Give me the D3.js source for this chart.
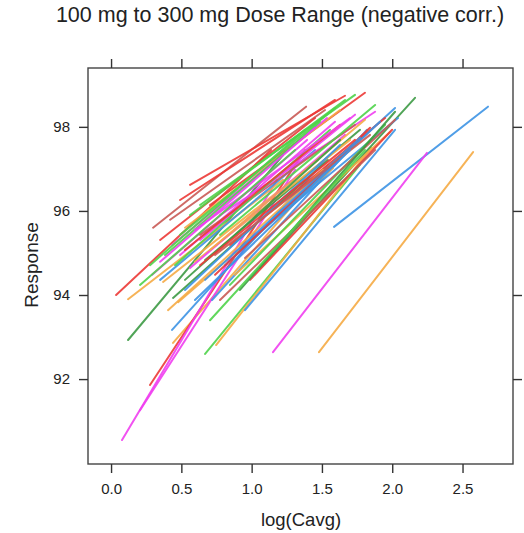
<!DOCTYPE html>
<html>
<head>
<meta charset="utf-8">
<script src="https://cdn.jsdelivr.net/npm/d3@7"></script>
<style>
body { margin: 0; background: #fff; }
text { font-family: "Liberation Sans", Arial, sans-serif; fill: #222; }
</style>
</head>
<body>
<div id="chart"></div>
<script>
// one segment per subject: log(Cavg) and Response at 100 mg and at 300 mg
var x1 = [1.586, 1.479, 1.152, 0.441, 0.277, 0.078, 0.206, 0.434, 0.718, 0.121,
          0.036, 0.121, 0.292, 0.349, 0.370, 0.441, 0.477, 0.299, 0.420, 0.349,
          0.669, 0.747, 1.060, 0.917, 0.989, 0.846, 0.633, 0.704, 0.775, 0.562,
          0.526, 0.491, 0.491, 0.434, 0.384, 0.633, 0.811, 0.882, 0.846, 0.953,
          0.989, 0.669, 0.277, 0.597, 0.562, 0.526, 0.740, 0.491, 0.775, 0.633,
          0.917, 0.562, 0.953, 0.704, 0.405, 0.455, 0.526, 0.597, 0.669, 0.704,
          0.526, 0.740, 0.775, 0.349, 0.633, 0.597, 0.206];
var y1 = [95.62, 92.64, 92.64, 92.86, 91.86, 90.55, 91.26, 93.17, 93.88, 92.93,
          94.00, 93.90, 94.48, 94.36, 94.31, 93.93, 93.83, 95.60, 95.79, 95.31,
          92.60, 92.81, 94.64, 95.07, 95.31, 95.19, 96.14, 96.14, 95.90, 95.90,
          95.60, 96.26, 94.95, 95.19, 94.95, 95.43, 94.71, 94.48, 94.24, 94.88,
          94.36, 94.83, 94.71, 94.79, 94.64, 94.12, 94.48, 95.43, 93.88, 95.31,
          94.12, 96.62, 93.64, 93.40, 93.64, 94.71, 95.07, 95.55, 94.36, 95.07,
          94.36, 94.95, 95.43, 94.79, 94.71, 93.88, 94.24];
var x2 = [2.681, 2.575, 2.247, 1.543, 1.380, 1.181, 1.309, 1.536, 1.821, 1.223,
          1.138, 1.223, 1.394, 1.451, 1.472, 1.543, 1.579, 1.387, 1.522, 1.451,
          1.771, 1.849, 2.162, 2.020, 2.041, 1.949, 1.735, 1.806, 1.878, 1.664,
          1.629, 1.593, 1.593, 1.536, 1.486, 1.735, 1.913, 1.984, 1.949, 2.020,
          1.999, 1.771, 1.380, 1.700, 1.664, 1.629, 1.842, 1.593, 1.878, 1.735,
          2.020, 1.664, 2.020, 1.806, 1.508, 1.558, 1.629, 1.700, 1.771, 1.806,
          1.629, 1.842, 1.878, 1.451, 1.735, 1.700, 1.309];
var y2 = [98.48, 97.40, 97.38, 97.10, 97.45, 96.74, 96.98, 97.26, 97.93, 97.33,
          97.45, 96.74, 97.69, 97.45, 97.21, 97.21, 97.02, 98.48, 98.40, 98.21,
          97.10, 97.50, 98.69, 98.45, 98.21, 98.21, 98.76, 98.81, 98.36, 98.64,
          98.40, 98.64, 98.12, 98.21, 98.12, 98.05, 98.12, 97.88, 98.05, 98.17,
          97.93, 97.93, 97.93, 97.69, 97.81, 97.57, 97.98, 98.45, 97.45, 98.29,
          98.36, 98.74, 97.93, 97.45, 96.98, 97.93, 98.05, 98.21, 97.74, 98.17,
          97.69, 97.81, 98.52, 97.98, 97.69, 97.45, 97.45];
// colour group of each subject
var grp = [4, 2, 5, 2, 1, 5, 5, 4, 4, 7,
           1, 2, 5, 4, 2, 7, 2, 6, 6, 1,
           3, 2, 7, 4, 4, 1, 3, 1, 5, 3,
           2, 1, 5, 5, 3, 6, 4, 2, 3, 6,
           1, 7, 3, 2, 5, 4, 1, 3, 6, 5,
           7, 1, 4, 3, 2, 3, 1, 5, 4, 2,
           7, 6, 3, 5, 1, 4, 3];

var xTicks = [0, 0.5, 1, 1.5, 2, 2.5];
var yTicks = [92, 94, 96, 98];

var svgWidth = 524;
var svgHeight = 533;
var box = {left: 88, right: 513, top: 68, bottom: 464};

var svg = d3.select("#chart")
.append("svg")
.attr("width", svgWidth)
.attr("height", svgHeight);

var xScale = d3.scaleLinear()
.domain([-0.164, 2.859])
.range([box.left, box.right]);

var yScale = d3.scaleLinear()
.domain([89.98, 99.40])
.range([box.bottom, box.top]);

var colour = d3.scaleOrdinal()
.domain([1, 2, 3, 4, 5, 6, 7])
.range(["#ec3a36", "#f5ab45", "#4fd34a", "#3d93e4", "#f03ff0", "#c95a55", "#3d9a45"]);

var subjects = d3.range(x1.length).map(i => ({x1: x1[i], y1: y1[i], x2: x2[i], y2: y2[i], g: grp[i]}));

svg.append("g")
.selectAll("line")
.data(subjects)
.enter()
.append("line")
.attr("x1", d => xScale(d.x1))
.attr("y1", d => yScale(d.y1))
.attr("x2", d => xScale(d.x2))
.attr("y2", d => yScale(d.y2))
.attr("stroke", d => colour(d.g))
.attr("stroke-width", 2)
.attr("stroke-opacity", 0.9)
.attr("stroke-linecap", "round");

// panel frame
svg.append("rect")
.attr("x", box.left)
.attr("y", box.top)
.attr("width", box.right - box.left)
.attr("height", box.bottom - box.top)
.attr("fill", "none")
.attr("stroke", "#444")
.attr("stroke-width", 1.4);

function styleAxis(g) {
    g.select(".domain").remove();
    g.selectAll(".tick line").attr("stroke", "#333").attr("stroke-width", 1.4);
    g.selectAll(".tick text").attr("fill", "#333").style("font-size", "15px");
}

svg.append("g")
.attr("transform", `translate(0,${box.bottom})`)
.call(d3.axisBottom(xScale).tickValues(xTicks).tickSize(9).tickPadding(10).tickFormat(d3.format(".1f")))
.call(styleAxis);

svg.append("g")
.attr("transform", `translate(0,${box.top})`)
.call(d3.axisTop(xScale).tickValues(xTicks).tickSize(9).tickFormat(""))
.call(styleAxis);

svg.append("g")
.attr("transform", `translate(${box.left},0)`)
.call(d3.axisLeft(yScale).tickValues(yTicks).tickSize(9).tickPadding(9))
.call(styleAxis);

svg.append("g")
.attr("transform", `translate(${box.right},0)`)
.call(d3.axisRight(yScale).tickValues(yTicks).tickSize(9).tickFormat(""))
.call(styleAxis);

svg.append("text")
.attr("x", 280)
.attr("y", 22)
.attr("text-anchor", "middle")
.style("font-size", "21.5px")
.text("100 mg to 300 mg Dose Range (negative corr.)");

svg.append("text")
.attr("x", 301)
.attr("y", 526)
.attr("text-anchor", "middle")
.style("font-size", "18.5px")
.text("log(Cavg)");

svg.append("text")
.attr("transform", "rotate(-90)")
.attr("x", -265)
.attr("y", 38)
.attr("text-anchor", "middle")
.style("font-size", "19px")
.text("Response");
</script>
</body>
</html>
